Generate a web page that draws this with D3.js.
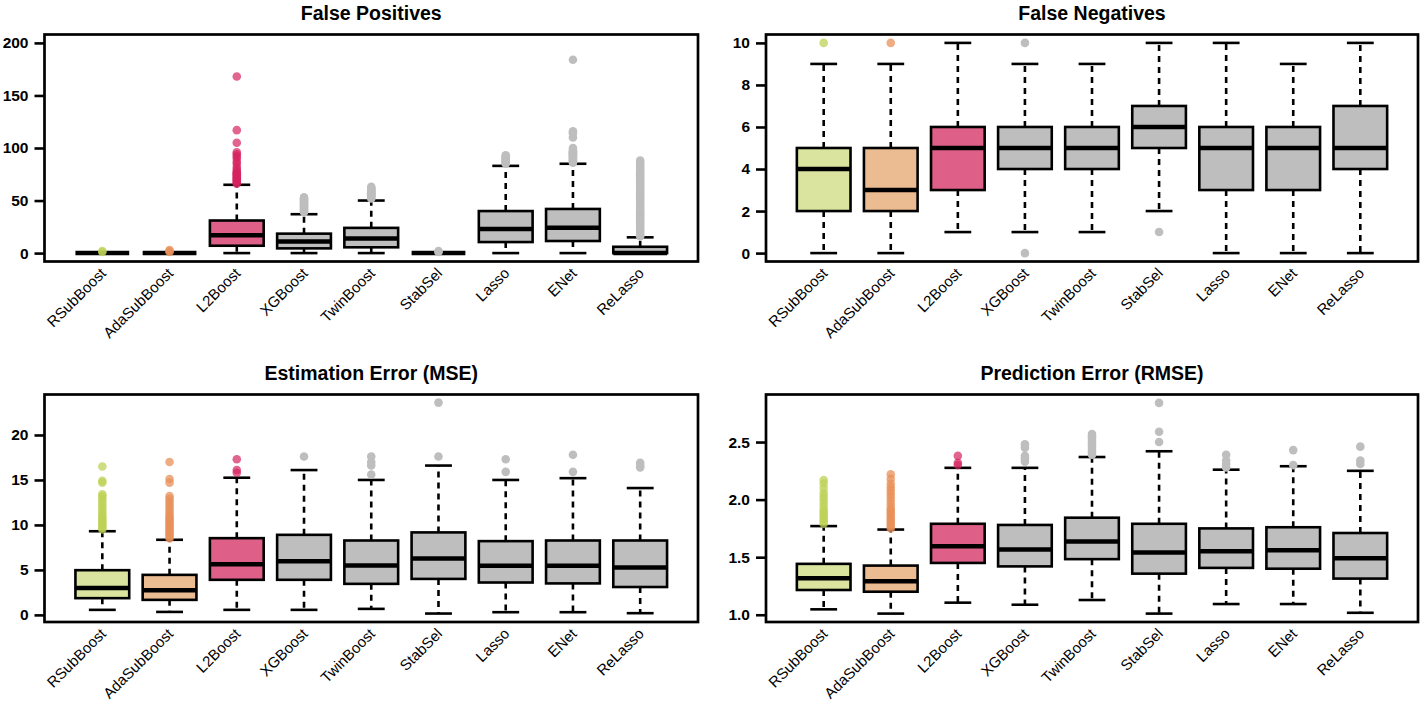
<!DOCTYPE html>
<html>
<head>
<meta charset="utf-8">
<script src="https://cdn.jsdelivr.net/npm/d3@7"></script>
<style>
  html, body { margin: 0; padding: 0; background: #fff; }
  svg { display: block; }
</style>
</head>
<body>
<svg id="chart" width="1424" height="704"></svg>
<script>
// ---------------- DATA ----------------
const methods = ["RSubBoost", "AdaSubBoost", "L2Boost", "XGBoost", "TwinBoost", "StabSel", "Lasso", "ENet", "ReLasso"];
const methodColors = ["green", "orange", "pink", "gray", "gray", "gray", "gray", "gray", "gray"];

// stats per method: [lower whisker, Q1, median, Q3, upper whisker]
const fpStats = [
  [0, 0, 0, 0, 0], [0, 0, 0, 0, 0], [0, 7, 17, 31, 65], [0, 4.5, 11, 18.5, 37], [0, 5.5, 14, 24, 50],
  [0, 0, 0, 0, 0], [0, 10.5, 23, 40, 83], [0, 11.5, 24, 42, 85], [0, 0, 0, 6, 15]
];
const fpOutliers = [
  [1, 2],
  [1, 2, 3],
  [66, 67, 68, 69, 70, 71, 72, 73, 74, 75, 76, 77, 78, 80, 82, 85, 87, 90, 92, 94, 96, 105, 117, 168],
  [39, 40, 41, 42, 43, 44, 45, 46, 47, 48, 49, 50, 51, 52, 53],
  [52, 53, 54, 55, 56, 57, 58, 59, 60, 61, 62, 63],
  [1, 2],
  [85, 86, 87, 88, 89, 90, 91, 92, 93],
  [86, 87, 88, 89, 90, 91, 92, 93, 94, 95, 96, 97, 98, 100, 110, 114, 116, 184],
  [16, 18, 20, 22, 24, 26, 28, 30, 32, 34, 36, 38, 40, 42, 44, 46, 48, 50, 52, 54, 56, 58, 60, 62, 64, 66, 68, 70, 72, 74, 76, 78, 80, 82, 84, 86, 88]
];
const fpTicks = [0, 50, 100, 150, 200];
const fpDomain = [-8, 208];

const fnStats = [
  [0, 2, 4, 5, 9], [0, 2, 3, 5, 9], [1, 3, 5, 6, 10], [1, 4, 5, 6, 9], [1, 4, 5, 6, 9],
  [2, 5, 6, 7, 10], [0, 3, 5, 6, 10], [0, 3, 5, 6, 9], [0, 4, 5, 7, 10]
];
const fnOutliers = [[10], [10], [], [0, 10], [], [1], [], [], []];
const fnTicks = [0, 2, 4, 6, 8, 10];
const fnDomain = [-0.4, 10.4];

const mseStats = [
  [0.56, 1.86, 3.0, 4.97, 9.3], [0.33, 1.67, 2.75, 4.45, 8.35], [0.56, 3.9, 5.64, 8.53, 15.25],
  [0.56, 3.9, 5.97, 8.9, 16.1], [0.67, 3.45, 5.5, 8.27, 15.0], [0.15, 4.0, 6.27, 9.17, 16.6],
  [0.3, 3.6, 5.45, 8.2, 15.0], [0.3, 3.5, 5.45, 8.27, 15.2], [0.19, 3.1, 5.27, 8.27, 14.1]
];
const mseOutliers = [
  [9.5, 9.7, 9.9, 10.1, 10.3, 10.5, 10.7, 10.9, 11.1, 11.4, 11.7, 12.0, 12.3, 12.6, 12.9, 13.2, 13.4, 14.7, 14.9, 16.5],
  [8.5, 8.7, 8.9, 9.1, 9.3, 9.5, 9.7, 9.9, 10.1, 10.3, 10.5, 10.7, 10.9, 11.1, 11.4, 11.7, 12.0, 12.3, 12.6, 12.9, 13.2, 14.7, 15.1, 17.0],
  [15.8, 16.1, 17.3],
  [17.6],
  [15.6, 16.6, 17.0, 17.6],
  [17.6, 23.6],
  [15.9, 17.3],
  [15.9, 17.8],
  [16.4, 16.6, 16.9]
];
const mseTicks = [0, 5, 10, 15, 20];
const mseDomain = [-0.79, 24.5];

const rmseStats = [
  [1.047, 1.215, 1.317, 1.442, 1.77], [1.01, 1.20, 1.29, 1.427, 1.74], [1.105, 1.45, 1.596, 1.79, 2.276],
  [1.087, 1.42, 1.567, 1.78, 2.276], [1.128, 1.483, 1.637, 1.843, 2.37], [1.01, 1.357, 1.54, 1.79, 2.42],
  [1.093, 1.407, 1.552, 1.75, 2.26], [1.093, 1.40, 1.56, 1.76, 2.29], [1.017, 1.314, 1.49, 1.71, 2.25]
];
const rmseOutliers = [
  [1.79, 1.81, 1.83, 1.85, 1.87, 1.89, 1.91, 1.94, 1.97, 2.00, 2.03, 2.06, 2.10, 2.14, 2.17],
  [1.75, 1.77, 1.79, 1.81, 1.83, 1.85, 1.87, 1.89, 1.91, 1.93, 1.96, 1.99, 2.02, 2.05, 2.08, 2.11, 2.14, 2.18, 2.22],
  [2.30, 2.32, 2.38],
  [2.33, 2.36, 2.38, 2.45, 2.48],
  [2.39, 2.41, 2.43, 2.45, 2.47, 2.49, 2.51, 2.53, 2.55, 2.57],
  [2.50, 2.59, 2.84],
  [2.28, 2.31, 2.34, 2.39],
  [2.30, 2.43],
  [2.31, 2.34, 2.46]
];
const rmseTicks = [1.0, 1.5, 2.0, 2.5];
const rmseDomain = [0.937, 2.913];

const titles = ["False Positives", "False Negatives", "Estimation Error (MSE)", "Prediction Error (RMSE)"];

// ---------------- STYLE ----------------
const fills = { green: "#DAE49F", orange: "#EBBB92", pink: "#DE6089", gray: "#BEBEBE" };
const outColors = { green: "#BCD255", orange: "#E8905A", pink: "#D6245F", gray: "#BEBEBE" };
const outOpacity = { green: 0.75, orange: 0.75, pink: 0.7, gray: 1 };

const panels = [
  { title: titles[0], stats: fpStats, outliers: fpOutliers, ticks: fpTicks, domain: fpDomain, fmt: d3.format("d"), rect: [44.5, 698, 34.5, 261.5] },
  { title: titles[1], stats: fnStats, outliers: fnOutliers, ticks: fnTicks, domain: fnDomain, fmt: d3.format("d"), rect: [766, 1418, 34.5, 261.5] },
  { title: titles[2], stats: mseStats, outliers: mseOutliers, ticks: mseTicks, domain: mseDomain, fmt: d3.format("d"), rect: [44.5, 698, 394.5, 622] },
  { title: titles[3], stats: rmseStats, outliers: rmseOutliers, ticks: rmseTicks, domain: rmseDomain, fmt: d3.format(".1f"), rect: [766, 1418, 394.5, 622] }
];

const svg = d3.select("#chart");
const FONT = "'Liberation Sans', Arial, Helvetica, sans-serif";

panels.forEach(p => {
  const [L, R, T, B] = p.rect;
  const x = d3.scaleLinear().domain([0.14, methods.length + 0.86]).range([L, R]);
  const y = d3.scaleLinear().domain(p.domain).range([B, T]);
  const unit = x(2) - x(1);
  const boxW = 0.8 * unit, capW = 0.4 * unit;
  const g = svg.append("g");

  // title
  g.append("text")
    .attr("x", (L + R) / 2).attr("y", T - 15)
    .attr("text-anchor", "middle")
    .attr("font-family", FONT).attr("font-weight", "bold").attr("font-size", 19.5)
    .text(p.title);

  // y axis
  const ax = g.append("g").attr("transform", `translate(${L},0)`)
    .call(d3.axisLeft(y).tickValues(p.ticks).tickSize(10).tickPadding(6).tickFormat(p.fmt));
  ax.select(".domain").remove();
  ax.selectAll(".tick line").attr("stroke", "#000").attr("stroke-width", 2.6);
  ax.selectAll(".tick text").attr("font-family", FONT).attr("font-weight", "bold")
    .attr("font-size", 15.5).attr("fill", "#000");

  // boxes
  methods.forEach((m, i) => {
    const s = p.stats[i];
    const cx = x(i + 1);
    const col = methodColors[i];
    const bg = g.append("g");
    // whiskers
    bg.append("line").attr("x1", cx).attr("x2", cx).attr("y1", y(s[3])).attr("y2", y(s[4]))
      .attr("stroke", "#000").attr("stroke-width", 2.6).attr("stroke-dasharray", "6,5");
    bg.append("line").attr("x1", cx).attr("x2", cx).attr("y1", y(s[1])).attr("y2", y(s[0]))
      .attr("stroke", "#000").attr("stroke-width", 2.6).attr("stroke-dasharray", "6,5");
    // caps
    [s[0], s[4]].forEach(v => {
      bg.append("line").attr("x1", cx - capW / 2).attr("x2", cx + capW / 2).attr("y1", y(v)).attr("y2", y(v))
        .attr("stroke", "#000").attr("stroke-width", 2.6);
    });
    // box
    bg.append("rect").attr("x", cx - boxW / 2).attr("width", boxW)
      .attr("y", y(s[3])).attr("height", Math.max(0, y(s[1]) - y(s[3])))
      .attr("fill", fills[col]).attr("stroke", "#000").attr("stroke-width", 2.6);
    // median
    bg.append("line").attr("x1", cx - boxW / 2).attr("x2", cx + boxW / 2).attr("y1", y(s[2])).attr("y2", y(s[2]))
      .attr("stroke", "#000").attr("stroke-width", 4.5);
    // outliers
    bg.selectAll("circle.o").data(p.outliers[i]).enter().append("circle")
      .attr("class", "o").attr("cx", cx).attr("cy", d => y(d)).attr("r", 4.3)
      .attr("fill", outColors[col]).attr("fill-opacity", outOpacity[col]);
  });

  // frame
  g.append("rect").attr("x", L).attr("y", T).attr("width", R - L).attr("height", B - T)
    .attr("fill", "none").attr("stroke", "#000").attr("stroke-width", 2.7);

  // x labels
  methods.forEach((m, i) => {
    const cx = x(i + 1);
    g.append("text")
      .attr("transform", `translate(${cx + 1},${B + 9}) rotate(-45)`)
      .attr("text-anchor", "end").attr("dy", "0.35em")
      .attr("font-family", FONT).attr("font-size", 15).attr("fill", "#000")
      .text(m);
  });
});
</script>
</body>
</html>
